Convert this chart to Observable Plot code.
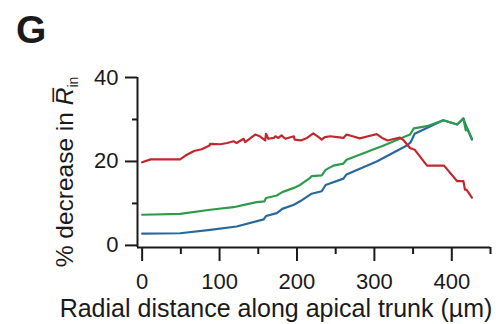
<!DOCTYPE html>
<html><head><meta charset="utf-8">
<script src="https://cdn.jsdelivr.net/npm/d3@7"></script>
<script src="https://cdn.jsdelivr.net/npm/@observablehq/plot@0.6"></script>
<style>
body{margin:0;background:#fff}
#chart{position:relative;width:496px;height:324px}
</style>
</head><body><div id="chart"></div>
<script>
const panelLabel = "G";
const xTitle = "Radial distance along apical trunk (\u00b5m)";
const yTitleMain = "% decrease in ";
const yTitleSymbol = "R\u0305";
const yTitleSub = "in";
const yTickLabels = [0, 20, 40];
const yMinorTicks = [10, 30];
const xTickLabels = [0, 100, 200, 300, 400];
const xMinorTicks = [50, 150, 250, 350, 450];

const redX = [0, 11, 49, 56, 67, 77, 87, 88, 101, 110, 118, 122, 131, 133, 146, 152, 159, 160, 163, 170, 172, 176, 180, 185, 196, 197, 205, 213, 221, 228, 232, 236, 243, 252, 260, 264, 272, 281, 292, 303, 310, 317, 333, 338, 346, 352, 368, 390, 407, 415, 417, 419, 426];
const redY = [19.8, 20.5, 20.5, 21.4, 22.5, 22.9, 23.8, 24.2, 24.1, 24.4, 24.8, 24.4, 25.4, 24.6, 26.4, 26.0, 25.0, 26.6, 25.4, 25.6, 26.0, 25.6, 26.2, 25.4, 26.0, 25.2, 25.0, 25.6, 26.7, 25.8, 25.2, 25.8, 26.0, 25.8, 25.6, 26.4, 26.0, 25.5, 26.0, 26.5, 25.6, 25.0, 25.7, 25.0, 23.2, 22.8, 19.0, 19.0, 15.3, 15.3, 13.3, 13.3, 11.4];

const greenX = [0, 49, 88, 118, 133, 148, 158, 160, 174, 181, 196, 204, 217, 219, 232, 237, 247, 260, 264, 312, 346, 351, 368, 389, 407, 415, 418, 419, 426];
const greenY = [7.3, 7.5, 8.5, 9.1, 9.7, 10.3, 10.5, 11.3, 11.9, 12.7, 13.7, 14.4, 16.1, 16.5, 16.7, 18.0, 19.0, 19.5, 20.4, 23.8, 26.4, 27.9, 28.4, 29.8, 28.8, 30.3, 27.4, 28.2, 25.5];

const blueX = [0, 49, 88, 122, 157, 160, 174, 181, 196, 204, 217, 219, 232, 237, 260, 264, 303, 342, 347, 352, 389, 407, 415, 419, 426];
const blueY = [2.8, 2.9, 3.7, 4.5, 6.2, 7.0, 7.7, 8.7, 9.7, 10.5, 12.1, 12.3, 12.9, 14.4, 15.9, 16.9, 20.0, 23.8, 24.6, 26.6, 29.8, 28.8, 30.2, 28.2, 25.2];

const seriesNames = ["seriesBlue", "seriesGreen", "seriesRed"];
const seriesColors = ["#2a679c", "#2e9b4c", "#c1272d"];

const toRows = (xs, ys, s) => xs.map((x, i) => ({x, y: ys[i], s}));
const rows = [
  ...toRows(blueX, blueY, seriesNames[0]),
  ...toRows(greenX, greenY, seriesNames[1]),
  ...toRows(redX, redY, seriesNames[2])
];

const ink = "#1a1a1a";
const xDomain = [-6, 450];
const yDomain = [-0.5, 40];

const plot = Plot.plot({
  width: 496,
  height: 324,
  marginLeft: 137,
  marginRight: 6,
  marginTop: 77,
  marginBottom: 77,
  style: {fontFamily: "'Liberation Sans', Arial, sans-serif", color: ink, background: "#fff"},
  x: {domain: xDomain, label: null},
  y: {domain: yDomain, label: null},
  color: {type: "ordinal", domain: seriesNames, range: seriesColors},
  marks: [
    Plot.axisY({ticks: yTickLabels, tickSize: 12, tickPadding: 7, fontSize: 22, strokeWidth: 2, label: null}),
    Plot.axisY({ticks: yMinorTicks, tickSize: 5, text: null, strokeWidth: 2, label: null}),
    Plot.axisX({ticks: xTickLabels, tickSize: 14, tickPadding: 12, fontSize: 22, strokeWidth: 2, label: null}),
    Plot.axisX({ticks: xMinorTicks, tickSize: 7, text: null, strokeWidth: 2, label: null}),
    Plot.ruleX([xDomain[0]], {y1: yDomain[0], y2: yDomain[1], stroke: ink, strokeWidth: 2}),
    Plot.ruleY([yDomain[0]], {x1: xDomain[0], x2: xDomain[1], stroke: ink, strokeWidth: 2}),
    Plot.line(rows, {x: "x", y: "y", z: "s", stroke: "s", strokeWidth: 2.2, strokeLinejoin: "round"})
  ]
});

document.getElementById("chart").appendChild(plot);
const svg = d3.select(plot);
const ff = "'Liberation Sans', Arial, sans-serif";

svg.append("text")
  .attr("x", 16).attr("y", 43)
  .attr("text-anchor", "start")
  .attr("font-family", ff).attr("font-size", 39).attr("font-weight", "bold")
  .attr("fill", ink)
  .text(panelLabel);

svg.append("text")
  .attr("x", 276).attr("y", 317)
  .attr("text-anchor", "middle")
  .attr("font-family", ff).attr("font-size", 25)
  .attr("fill", ink)
  .text(xTitle);

const yt = svg.append("text")
  .attr("transform", "translate(73,172) rotate(-90)")
  .attr("text-anchor", "middle")
  .attr("font-family", ff).attr("font-size", 24.5)
  .attr("fill", ink);
yt.append("tspan").text(yTitleMain);
yt.append("tspan").attr("font-style", "italic").text(yTitleSymbol);
yt.append("tspan").attr("font-size", 14).attr("dy", 5).text(yTitleSub);
</script>
</body></html>
